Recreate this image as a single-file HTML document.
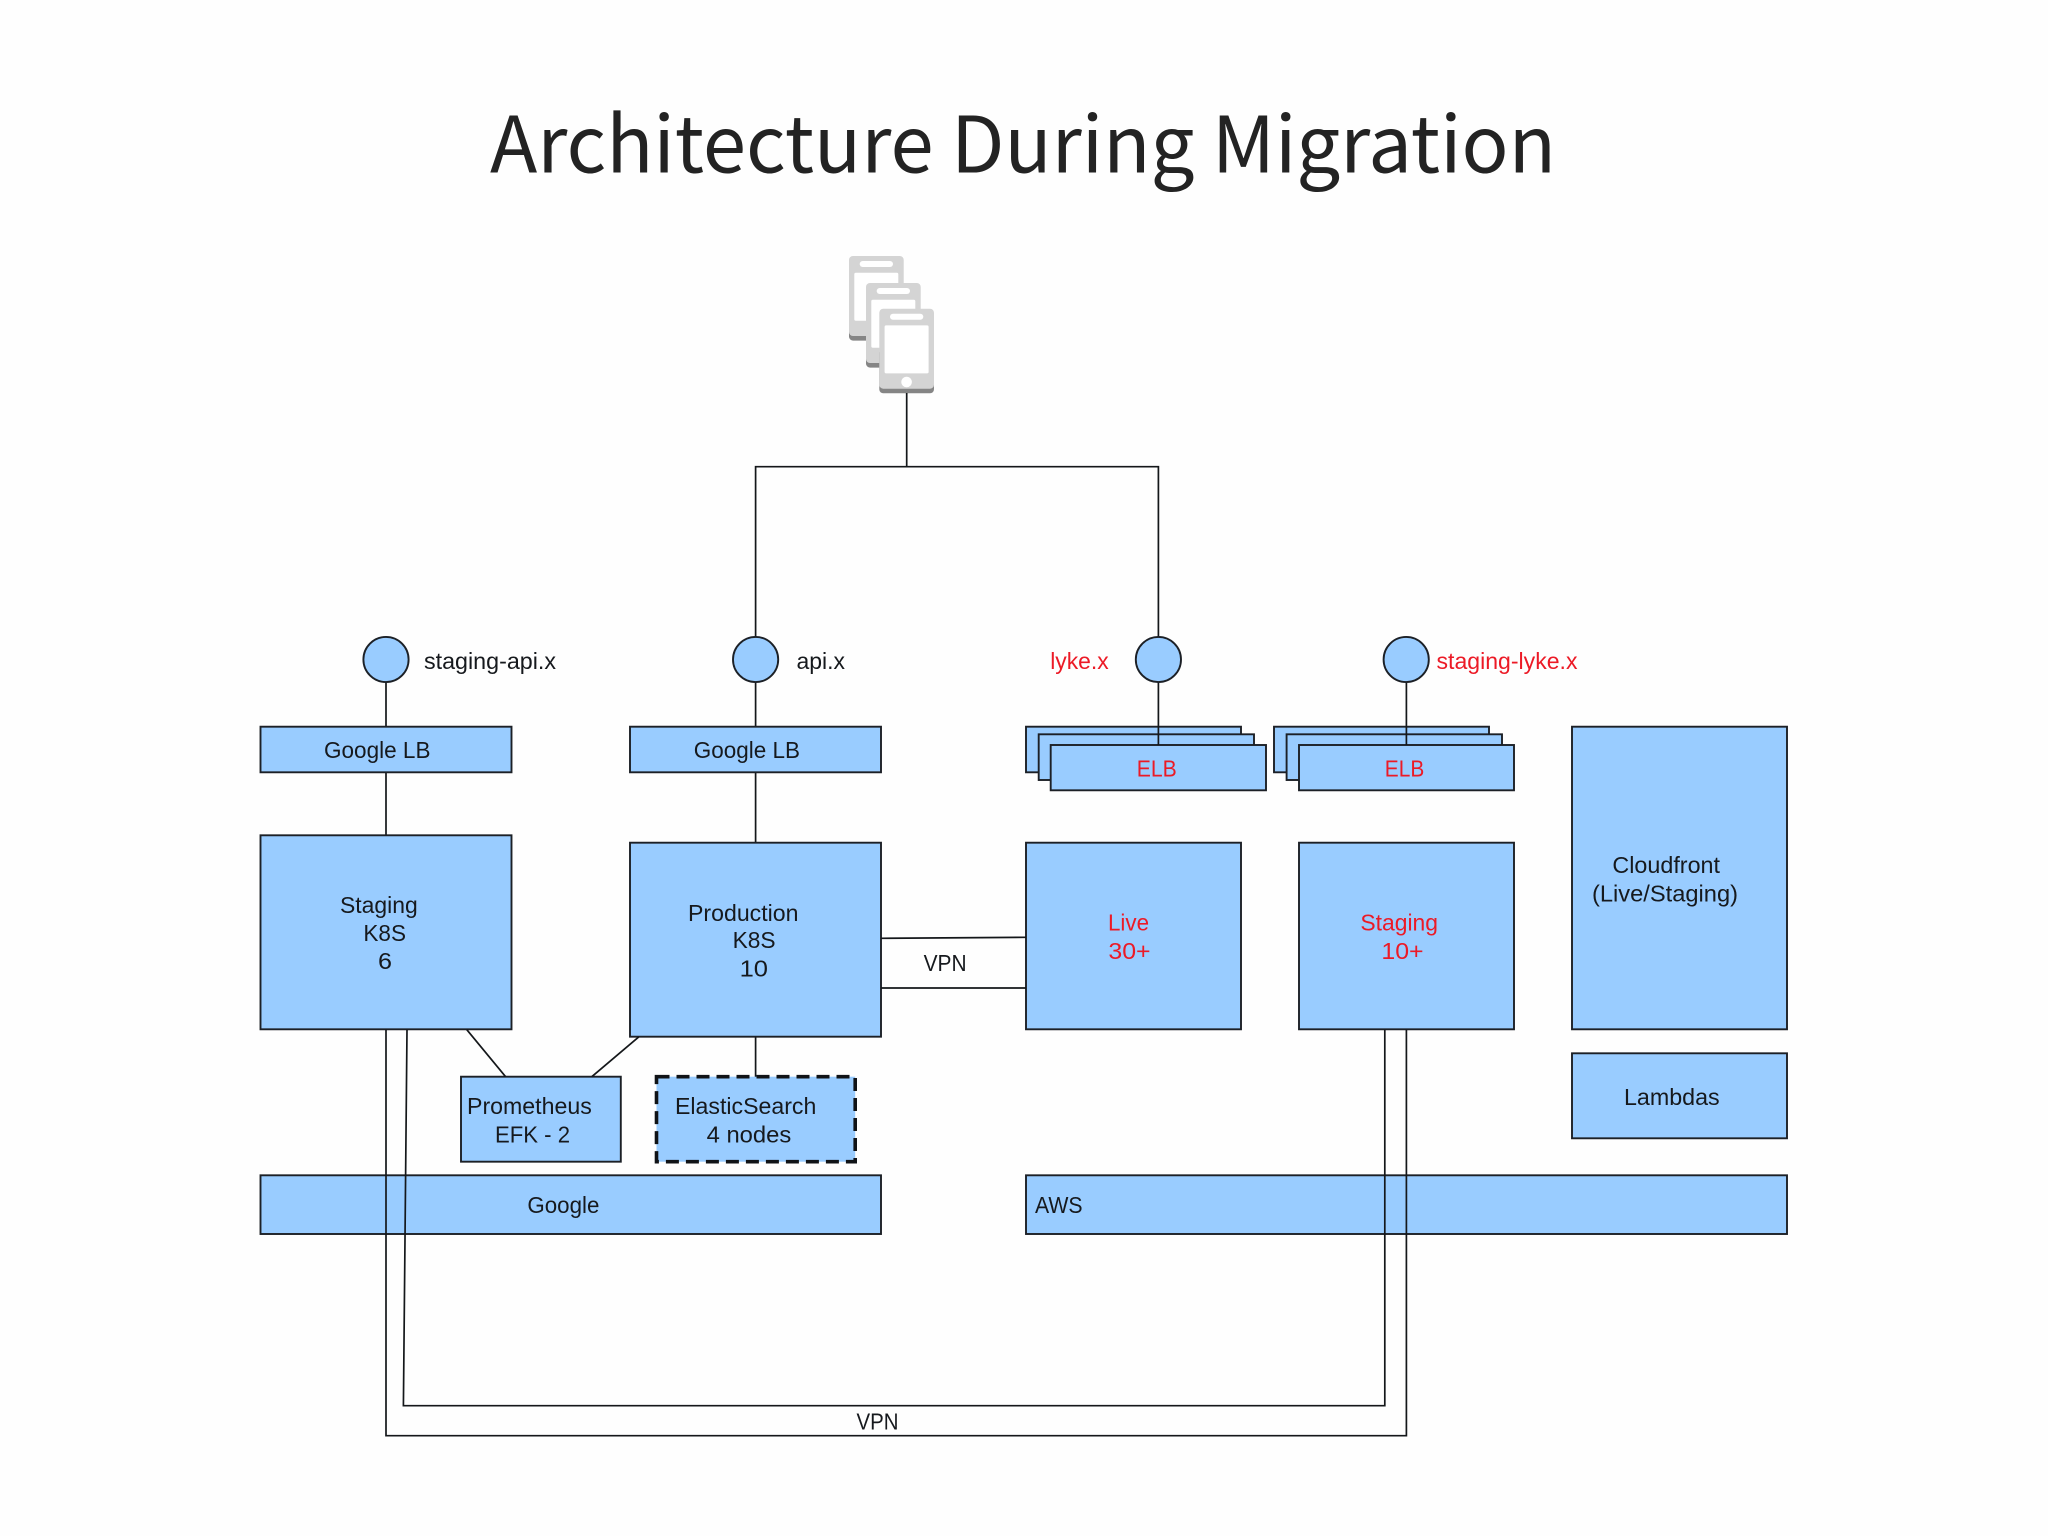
<!DOCTYPE html>
<html><head><meta charset="utf-8"><title>Architecture During Migration</title>
<style>
html,body{margin:0;padding:0;background:#fefefe}
svg{display:block}
.b{fill:#99ccff;stroke:#1c2026;stroke-width:1.9}
.l{fill:none;stroke:#14171a;stroke-width:1.7}
text{font-family:"Liberation Sans",sans-serif;font-size:23px;fill:#16191d}
text.r{fill:#ec1a26}
</style></head>
<body>
<svg width="2048" height="1536" viewBox="0 0 2048 1536" xmlns="http://www.w3.org/2000/svg">
<rect width="2048" height="1536" fill="#fefefe"/>
<text x="490" y="172.3" textLength="1066" lengthAdjust="spacingAndGlyphs" style="font-family:'Noto Sans CJK SC','Liberation Sans',sans-serif;font-size:78px;fill:#232323">Architecture During Migration</text>

<defs><g id="p">
<rect x="0" y="40" width="54.7" height="44.6" rx="4" fill="#858585"/>
<rect x="0" y="0" width="54.7" height="80" rx="4" fill="#d4d4d4"/>
<rect x="5.3" y="16.7" width="44" height="48" rx="1.5" fill="#fff"/>
<rect x="10.7" y="5" width="33.3" height="6" rx="3" fill="#fff"/>
<circle cx="27.3" cy="73.3" r="5.3" fill="#fff"/>
</g></defs>
<use href="#p" x="849" y="256"/>
<use href="#p" x="866" y="283"/>
<use href="#p" x="879.3" y="308.7"/>

<!-- top connectors -->
<path class="l" d="M906.7 393V466.7M755.6 640V466.7H1158.4V640"/>
<path class="l" d="M386 682V835M755.6 682V843M755.6 1037V1077M1158.4 682V745M1406.4 682V745"/>

<!-- endpoints -->
<ellipse class="b" cx="386" cy="659.5" rx="22.6" ry="22.6"/>
<ellipse class="b" cx="755.6" cy="659.5" rx="22.6" ry="22.6"/>
<ellipse class="b" cx="1158.4" cy="659.5" rx="22.6" ry="22.6"/>
<ellipse class="b" cx="1406.2" cy="659.5" rx="22.6" ry="22.6"/>

<!-- load balancers -->
<rect class="b" x="260.5" y="726.7" width="251" height="45.6"/>
<rect class="b" x="630" y="726.7" width="251" height="45.6"/>
<rect class="b" x="1026" y="726.7" width="215" height="45.6"/>
<rect class="b" x="1038.7" y="734.3" width="215.3" height="45.7"/>
<rect class="b" x="1050.7" y="745" width="215.3" height="45.3"/>
<rect class="b" x="1274" y="726.7" width="215" height="45.6"/>
<rect class="b" x="1286.6" y="734.3" width="215.4" height="45.7"/>
<rect class="b" x="1299" y="745" width="215" height="45.3"/>
<path class="l" d="M1158.4 726V745M1406.4 726V745"/>

<!-- main boxes -->
<rect class="b" x="260.5" y="835.3" width="251" height="194"/>
<rect class="b" x="630" y="842.7" width="251" height="194"/>
<rect class="b" x="1026" y="842.7" width="215" height="186.6"/>
<rect class="b" x="1299" y="842.7" width="215" height="186.6"/>
<rect class="b" x="1572" y="726.7" width="215" height="302.6"/>
<rect class="b" x="1572" y="1053.3" width="215" height="85"/>
<rect class="b" x="461" y="1076.7" width="159.8" height="85"/>
<rect x="656.5" y="1076.7" width="198.7" height="85" fill="#99ccff" stroke="#101317" stroke-width="3.6" stroke-dasharray="13 7"/>
<rect class="b" x="260.5" y="1175.3" width="620.5" height="58.7"/>
<rect class="b" x="1026" y="1175.3" width="761" height="58.7"/>

<!-- connectors -->
<path class="l" d="M881 938.3L1026 937.3M881 988H1026"/>
<path class="l" d="M466.8 1029.7L505.6 1076.7M638.7 1037L591.8 1076.7"/>
<path class="l" d="M386 1029.7V1435.7H1406.4V1029.7"/>
<path class="l" d="M407 1029.7L403.4 1405.7H1384.8V1029.7"/>

<!-- labels -->
<text x="424" y="669" textLength="132" lengthAdjust="spacingAndGlyphs">staging-api.x</text>
<text x="796.5" y="669" textLength="48.5" lengthAdjust="spacingAndGlyphs">api.x</text>
<text class="r" x="1050.2" y="669" textLength="58.5" lengthAdjust="spacingAndGlyphs">lyke.x</text>
<text class="r" x="1436.5" y="669" textLength="141" lengthAdjust="spacingAndGlyphs">staging-lyke.x</text>
<text x="324" y="758" textLength="106.5" lengthAdjust="spacingAndGlyphs">Google LB</text>
<text x="693.8" y="758" textLength="106.2" lengthAdjust="spacingAndGlyphs">Google LB</text>
<text class="r" x="1136.8" y="776.7" textLength="40" lengthAdjust="spacingAndGlyphs">ELB</text>
<text class="r" x="1384.8" y="776.7" textLength="39.5" lengthAdjust="spacingAndGlyphs">ELB</text>
<text x="340" y="913" textLength="77.7" lengthAdjust="spacingAndGlyphs">Staging</text>
<text x="363.4" y="941" textLength="42.6" lengthAdjust="spacingAndGlyphs">K8S</text>
<text x="378" y="969" textLength="14" lengthAdjust="spacingAndGlyphs">6</text>
<text x="688" y="921" textLength="110.5" lengthAdjust="spacingAndGlyphs">Production</text>
<text x="732.6" y="948" textLength="43" lengthAdjust="spacingAndGlyphs">K8S</text>
<text x="739.6" y="976.7" textLength="28.4" lengthAdjust="spacingAndGlyphs">10</text>
<text class="r" x="1108" y="930.7" textLength="41" lengthAdjust="spacingAndGlyphs">Live</text>
<text class="r" x="1108.4" y="959" textLength="42.2" lengthAdjust="spacingAndGlyphs">30+</text>
<text class="r" x="1360.4" y="930.7" textLength="77.6" lengthAdjust="spacingAndGlyphs">Staging</text>
<text class="r" x="1381.4" y="959" textLength="42.2" lengthAdjust="spacingAndGlyphs">10+</text>
<text x="1612.4" y="873" textLength="107.6" lengthAdjust="spacingAndGlyphs">Cloudfront</text>
<text x="1592" y="901.7" textLength="146" lengthAdjust="spacingAndGlyphs">(Live/Staging)</text>
<text x="1624" y="1105" textLength="95.7" lengthAdjust="spacingAndGlyphs">Lambdas</text>
<text x="467" y="1114" textLength="124.8" lengthAdjust="spacingAndGlyphs">Prometheus</text>
<text x="495" y="1142.3" textLength="75" lengthAdjust="spacingAndGlyphs">EFK - 2</text>
<text x="675" y="1114" textLength="141.3" lengthAdjust="spacingAndGlyphs">ElasticSearch</text>
<text x="706.6" y="1142.3" textLength="84.7" lengthAdjust="spacingAndGlyphs">4 nodes</text>
<text x="527.4" y="1213" textLength="72" lengthAdjust="spacingAndGlyphs">Google</text>
<text x="1035" y="1213" textLength="47.6" lengthAdjust="spacingAndGlyphs">AWS</text>
<text x="923.6" y="971" textLength="43" lengthAdjust="spacingAndGlyphs">VPN</text>
<text x="856.5" y="1429.3" textLength="42" lengthAdjust="spacingAndGlyphs">VPN</text>
</svg>
</body></html>
